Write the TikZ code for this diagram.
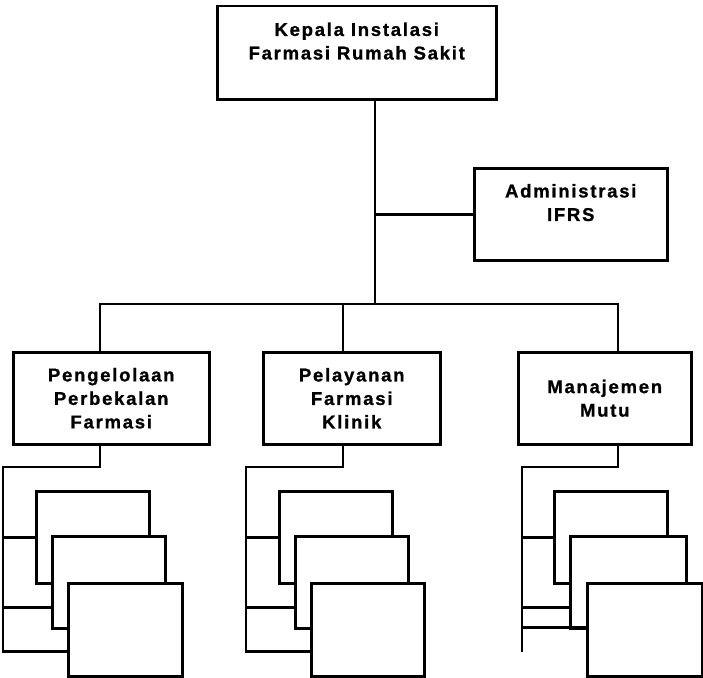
\documentclass[tikz,border=0pt]{standalone}
\usepackage{fontspec}
\setmainfont{Liberation Sans}
\newfontfamily\lblfont[LetterSpace=9.5, BoldFont={Liberation Sans Bold}, BoldFeatures={FakeBold=1}]{Liberation Sans}
\begin{document}
\begin{tikzpicture}[x=1pt,y=-1pt,line width=2.5pt,
  box/.style={draw, fill=white, inner sep=0pt, anchor=north west, align=center,
    font=\lblfont\bfseries\fontsize{18.5}{23.5}\selectfont},
  sub/.style={draw, fill=white, inner sep=0pt, anchor=north west},
  conn/.style={draw, line cap=rect}]
\useasboundingbox (0,0) rectangle (703,677);

% top level
\node[box, minimum width=279, minimum height=93] (top) at (216,5)
  {Kepala Instalasi\\Farmasi Rumah Sakit\\\mbox{}};
\node[box, minimum width=193, minimum height=92] (admin) at (473,167)
  {Administrasi\\IFRS\\\mbox{}};

% second level
\node[box, minimum width=196, minimum height=92] (b1) at (12,351)
  {Pengelolaan\\Perbekalan\\Farmasi};
\node[box, minimum width=177, minimum height=92] (b2) at (262,351)
  {Pelayanan\\Farmasi\\Klinik};
\node[box, minimum width=173, minimum height=92] (b3) at (517,351)
  {Manajemen\\Mutu};

% connectors top
\coordinate (bus) at (375,304);
\coordinate (d1) at (100,304);
\coordinate (d2) at (343,304);
\coordinate (d3) at (618,304);
\draw[conn] (top.south -| bus) -- (bus);
\draw[conn] (admin.west) -- (admin.west -| bus);
\draw[conn] (d1) -- (d3);
\draw[conn] (d1) -- (d1 |- b1.north);
\draw[conn] (d2) -- (d2 |- b2.north);
\draw[conn] (d3) -- (d3 |- b3.north);

% third level boxes
\node[sub, minimum width=113, minimum height=92] (sa1) at (35,490) {};
\node[sub, minimum width=113, minimum height=92] (sb1) at (51,535) {};
\node[sub, minimum width=114, minimum height=93] (sc1) at (67,582) {};

\node[sub, minimum width=113, minimum height=92] (sa2) at (278,490) {};
\node[sub, minimum width=113, minimum height=92] (sb2) at (294,535) {};
\node[sub, minimum width=113, minimum height=93] (sc2) at (310,582) {};

\node[sub, minimum width=113, minimum height=92] (sa3) at (553,490) {};
\node[sub, minimum width=116, minimum height=92] (sb3) at (569,535) {};
\node[sub, minimum width=115, minimum height=93] (sc3) at (586,582) {};

% column 1 connectors
\coordinate (e1) at (100,467);
\coordinate (f1) at (3,467);
\coordinate (g1) at (3,650);
\draw[conn] (b1.south -| e1) -- (e1) -- (f1) -- (g1);
\draw[conn] (sa1.west) -- (sa1.west -| f1);
\draw[conn] ([yshift=-25pt]sb1.west) -- ([yshift=-25pt]sb1.west -| f1);
\draw[conn] ([yshift=-21.5pt]sc1.west) -- ([yshift=-21.5pt]sc1.west -| f1);

% column 2 connectors
\coordinate (e2) at (343,467);
\coordinate (f2) at (246,467);
\coordinate (g2) at (246,650);
\draw[conn] (b2.south -| e2) -- (e2) -- (f2) -- (g2);
\draw[conn] (sa2.west) -- (sa2.west -| f2);
\draw[conn] ([yshift=-25pt]sb2.west) -- ([yshift=-25pt]sb2.west -| f2);
\draw[conn] ([yshift=-21.5pt]sc2.west) -- ([yshift=-21.5pt]sc2.west -| f2);

% column 3 connectors
\coordinate (e3) at (618,467);
\coordinate (f3) at (522,467);
\coordinate (g3) at (522,651);
\draw[conn] (b3.south -| e3) -- (e3) -- (f3) -- (g3);
\draw[conn] (sa3.west) -- (sa3.west -| f3);
\draw[conn] ([yshift=-25pt]sb3.west) -- ([yshift=-25pt]sb3.west -| f3);
\draw[conn] ([yshift=2.5pt]sc3.west) -- ([yshift=2.5pt]sc3.west -| f3);
\end{tikzpicture}
\end{document}
